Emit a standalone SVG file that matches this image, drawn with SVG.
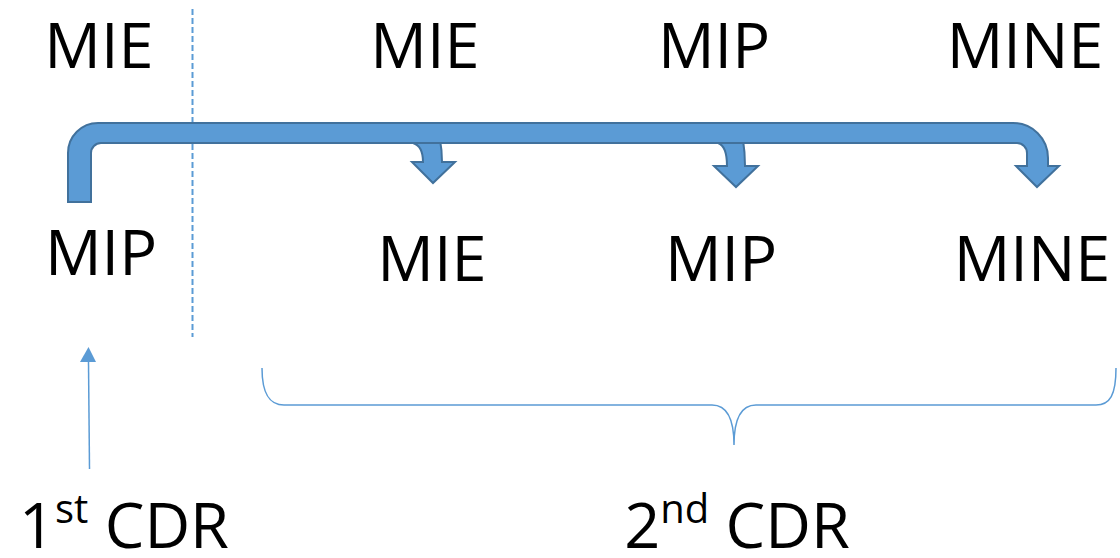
<svg xmlns="http://www.w3.org/2000/svg" width="1120" height="558" viewBox="0 0 1120 558">
<style>
.t{font-family:"Open Sans","Liberation Sans",sans-serif;font-size:63px;fill:#000;text-anchor:middle}
.sup{font-size:40px}
.arr{fill:#5B9BD5;stroke:#41719C;stroke-width:2;stroke-linejoin:miter}
.thin{fill:none;stroke:#5B9BD5;stroke-width:1.5}
</style>
<defs>
<marker id="ah" markerWidth="16" markerHeight="16" refX="8" refY="15" orient="auto-start-reverse" markerUnits="userSpaceOnUse" viewBox="0 0 16 16">
<path d="M0,15 L8,0 L16,15 Z" fill="#5B9BD5"/>
</marker>
</defs>
<g id="labels">
<g id="n-mie-top-left"><text class="t" x="99" y="68">MIE</text></g>
<g id="n-mip-left"><text class="t" x="101" y="275">MIP</text></g>
<g id="n-mie-top"><text class="t" x="425" y="68">MIE</text></g>
<g id="n-mip-top"><text class="t" x="714" y="68">MIP</text></g>
<g id="n-mine-top"><text class="t" x="1025" y="68">MINE</text></g>
<g id="n-mie-bot"><text class="t" x="432" y="281">MIE</text></g>
<g id="n-mip-bot"><text class="t" x="721" y="281">MIP</text></g>
<g id="n-mine-bot"><text class="t" x="1032" y="281">MINE</text></g>
<g id="n-1st"><text class="t" x="124" y="548">1<tspan class="sup" dy="-25">st</tspan><tspan dy="25"> CDR</tspan></text></g>
<g id="n-2nd"><text class="t" x="737" y="548">2<tspan class="sup" dy="-25">nd</tspan><tspan dy="25"> CDR</tspan></text></g>
</g>
<g id="connectors">
<line x1="192.5" y1="9" x2="192.5" y2="337" stroke="#5B9BD5" stroke-width="2" stroke-dasharray="6,3"/>
<path class="arr" d="M413,140 L413,143 Q423,146 423,162 L412,162 L433,183 L455,162 L442,162 Q442,150 440,140 Z"/>
<path class="arr" d="M718,140 L718,143 Q727,146 727,166 L714,166 L736,187 L758,166 L745,166 Q745,152 743,140 Z"/>
<path class="arr" d="M68,202 L68,153 A30,30 0 0 1 98,123 L1013,123 A35,35 0 0 1 1048,158 L1048,166 L1059,166 L1037,187 L1016,166 L1027,166 L1027,153 A10,10 0 0 0 1017,143 L101,143 A10,10 0 0 0 91,153 L91,202 Z"/>
<line class="thin" x1="89.5" y1="469" x2="88.5" y2="362" />
<path d="M80,362 L88.5,347 L96,362 Z" fill="#5B9BD5"/>
<path class="thin" d="M262,368 C262,395 270,405 284,405 L712,405 C728,405 734,420 734,445 C734,420 740,405 756,405 L1096,405 C1110,405 1116,395 1116,368"/>
</g>
</svg>
